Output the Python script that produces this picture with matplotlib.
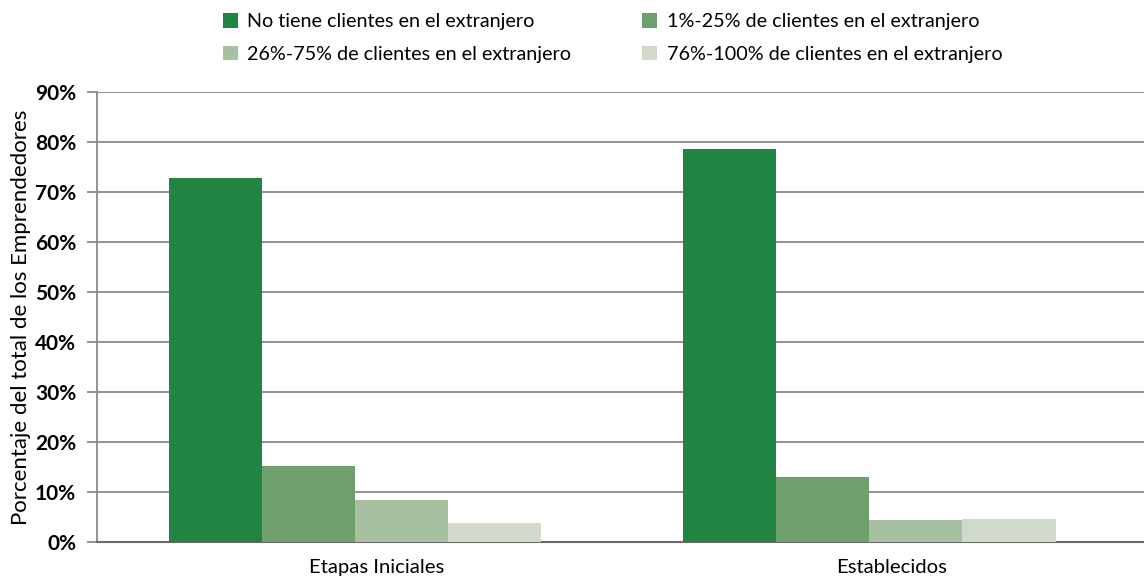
import matplotlib
matplotlib.use("Agg")
import matplotlib.pyplot as plt
import numpy as np
from matplotlib.ticker import PercentFormatter

categories = ["Etapas Iniciales", "Establecidos"]
series_names = [
    "No tiene clientes en el extranjero",
    "1%-25% de clientes en el extranjero",
    "26%-75% de clientes en el extranjero",
    "76%-100% de clientes en el extranjero",
]
values = [
    [72.8, 78.6],   # No tiene
    [15.2, 13.0],   # 1-25
    [8.4, 4.4],     # 26-75
    [3.8, 4.6],     # 76-100
]
colors = ["#228442", "#6EA06E", "#A6C0A0", "#CFDACA"]
yticks = [0, 10, 20, 30, 40, 50, 60, 70, 80, 90]

plt.rcParams['font.family'] = ['Lato', 'DejaVu Sans']

fig = plt.figure(figsize=(11.44, 5.81), dpi=100)
ax = fig.add_axes([97/1144, 39/581, 1 - 97/1144, (542-92)/581])

x = np.arange(len(categories))
w = 0.181
handles = []
for i, (name, vals, c) in enumerate(zip(series_names, values, colors)):
    h = ax.bar(x + (i - 1.5) * w, vals, width=w, color=c, label=name, zorder=3)
    handles.append(h)

ax.set_ylim(0, 90)
ax.set_xlim(-0.501, 1.534)
ax.set_yticks(yticks)
ax.yaxis.set_major_formatter(PercentFormatter(decimals=0))
ax.grid(axis='y', color='#8a8a8a', linewidth=1.3, zorder=0)
ax.set_axisbelow(True)
for s in ['top', 'right']:
    ax.spines[s].set_visible(False)
ax.spines['left'].set_color('#8a8a8a')
ax.spines['left'].set_linewidth(1.3)
ax.spines['bottom'].set_color('#6a6a6a')
ax.spines['bottom'].set_linewidth(1.5)
ax.tick_params(axis='y', length=7, color='#8a8a8a', width=1.3, labelsize=15, pad=8)
ax.tick_params(axis='x', length=0, labelsize=14.6, pad=12)
for lab in ax.get_yticklabels():
    lab.set_fontweight('bold')
ax.set_xticks(x + 0.043)
ax.set_xticklabels(categories)
ax.set_ylabel("Porcentaje del total de los Emprendedores", fontsize=16)
ax.yaxis.set_label_coords(-0.063, 0.5)

order = [0, 2, 1, 3]
fig.legend(handles=[handles[i] for i in order], labels=[series_names[i] for i in order],
           ncol=2, loc='upper left',
           bbox_to_anchor=(205/1144, 1.008), frameon=False, fontsize=14.2,
           handlelength=0.75, handleheight=0.75, handletextpad=0.5,
           columnspacing=3.6, labelspacing=0.78)

fig.savefig("out.png", dpi=100)
